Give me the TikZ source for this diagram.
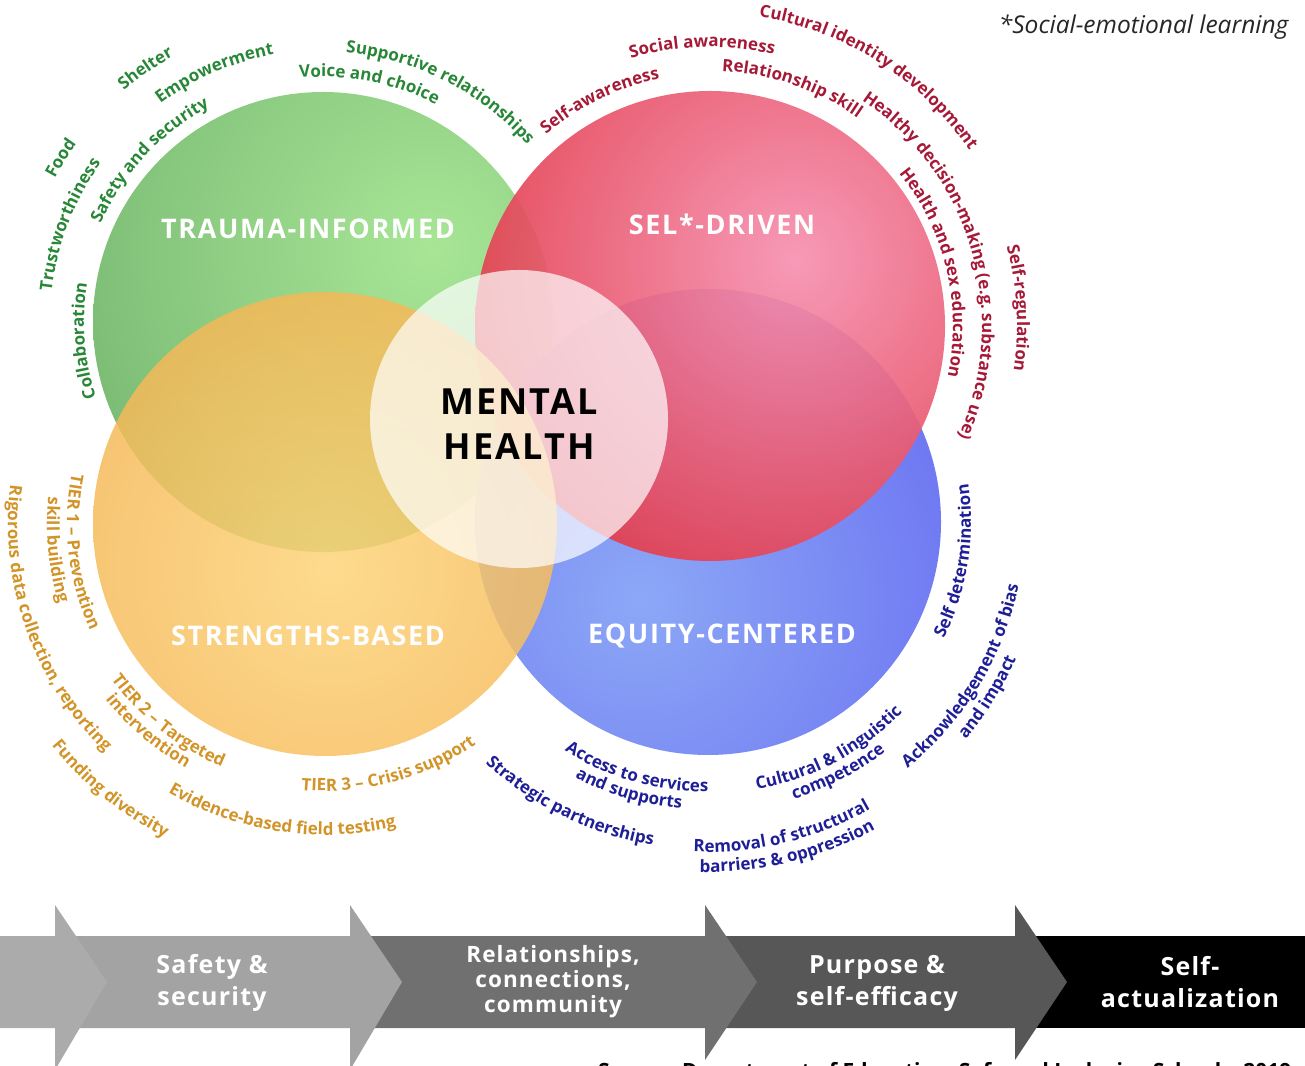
\documentclass[tikz,border=0pt]{standalone}
\usepackage{fontspec}
\setmainfont{Open Sans}
\newfontfamily\headfont{Open Sans}[LetterSpace=6]
\newfontfamily\stepfont{Open Sans}[LetterSpace=5]
\usetikzlibrary{calc,decorations.text}

\definecolor{grnin}{RGB}{168,230,150}
\definecolor{grnout}{RGB}{100,166,100}
\definecolor{redin}{RGB}{246,146,178}
\definecolor{redout}{RGB}{224,50,64}
\definecolor{orgin}{RGB}{253,212,122}
\definecolor{orgout}{RGB}{238,162,60}
\definecolor{bluin}{RGB}{140,168,246}
\definecolor{bluout}{RGB}{98,98,240}
\definecolor{grntxt}{RGB}{40,135,55}
\definecolor{redtxt}{RGB}{165,25,55}
\definecolor{orgtxt}{RGB}{210,148,40}
\definecolor{blutxt}{RGB}{30,30,150}
\definecolor{stepa}{RGB}{171,171,171}
\definecolor{stepb}{RGB}{163,163,163}
\definecolor{stepc}{RGB}{112,112,112}
\definecolor{stepd}{RGB}{87,87,87}

\newcommand\lblfont{\bfseries\fontsize{17}{20}\selectfont}
% curved labels: centre, baseline radius, mid angle, colour, text
\newcommand{\cwtext}[5]{%
  \path[decorate,decoration={text along path,text align=center,text color=#4,
      text={|\lblfont|#5}}]
    ($(#1)+(#3+80:#2)$) arc[start angle=#3+80,end angle=#3-80,radius=#2];}
\newcommand{\ccwtext}[5]{%
  \path[decorate,decoration={text along path,text align=center,text color=#4,
      text={|\lblfont|#5}}]
    ($(#1)+(#3-80:#2)$) arc[start angle=#3-80,end angle=#3+80,radius=#2];}

\begin{document}
\begin{tikzpicture}[x=1pt,y=1pt,
    heading/.style={text=white,font=\headfont\bfseries\fontsize{27}{30}\selectfont},
    steptext/.style={text=white,align=center,font=\stepfont\bfseries\fontsize{25}{32}\selectfont}]

  \useasboundingbox (0,0) rectangle (1305,1065);
  \clip (0,0) rectangle (1305,1065);

  \coordinate (G) at (323,743);
  \coordinate (R) at (710,739);
  \coordinate (O) at (325,541);
  \coordinate (B) at (708,543);
  \coordinate (C) at (519,646);

  % the four rings
  \begin{scope}
    \clip (G) circle (230);
    \shade[inner color=grnin,outer color=grnout] (430,815) circle (560);
  \end{scope}
  \begin{scope}
    \clip (B) circle (233);
    \shade[inner color=bluin,outer color=bluout] (640,465) circle (480);
  \end{scope}
  \begin{scope}
    \clip (R) circle (235);
    \shade[inner color=redin,outer color=redout,opacity=0.93] (795,805) circle (390);
  \end{scope}
  \begin{scope}
    \clip (O) circle (232);
    \shade[inner color=orgin,outer color=orgout,opacity=0.85] (330,495) circle (500);
  \end{scope}
  \fill[white,opacity=0.7] (C) circle (149);

  \node[heading] (trauma) at (308,836) {TRAUMA-INFORMED};
  \node[heading] (sel) at (722,841) {SEL*-DRIVEN};
  \node[heading] (strength) at (308,429) {STRENGTHS-BASED};
  \node[heading] (equity) at (722,429) {EQUITY-CENTERED};
  \node[font=\headfont\bfseries\fontsize{36}{45}\selectfont,align=center] (mh) at (519,641)
    {MENTAL\\HEALTH};

  % green ring
  \cwtext{G}{239}{184.5}{grntxt}{Collaboration}
  \cwtext{G}{273}{159}{grntxt}{Trustworthiness}
  \cwtext{G}{304}{148}{grntxt}{Food}
  \cwtext{G}{243}{137}{grntxt}{Safety and security}
  \cwtext{G}{272}{113.5}{grntxt}{Empowerment}
  \cwtext{G}{305}{125}{grntxt}{Shelter}
  \cwtext{G}{245}{79}{grntxt}{Voice and choice}
  \cwtext{G}{270}{63}{grntxt}{Supportive relationships}

  % red ring
  \cwtext{R}{252}{116}{redtxt}{Self-awareness}
  \cwtext{R}{279}{91.6}{redtxt}{Social awareness}
  \cwtext{R}{255}{71}{redtxt}{Relationship skill}
  \cwtext{R}{313}{57.5}{redtxt}{Cultural identity development}
  \cwtext{R}{272}{16}{redtxt}{Healthy decision-making (e.g. substance use)}
  \cwtext{R}{243}{13.5}{redtxt}{Health and sex education}
  \cwtext{R}{307}{3.3}{redtxt}{Self-regulation}

  % orange ring
  \ccwtext{O}{258}{186.6}{orgtxt}{TIER 1 – Prevention}
  \ccwtext{O}{278}{185.5}{orgtxt}{skill building}
  \ccwtext{O}{317}{199.5}{orgtxt}{Rigorous data collection, reporting}
  \ccwtext{O}{264}{231.5}{orgtxt}{TIER 2 – Targeted}
  \ccwtext{O}{281}{229.5}{orgtxt}{intervention}
  \ccwtext{O}{352}{231}{orgtxt}{Funding diversity}
  \ccwtext{O}{311}{261.5}{orgtxt}{Evidence-based field testing}
  \ccwtext{O}{267}{284.7}{orgtxt}{TIER 3 – Crisis support}

  % blue ring
  \ccwtext{B}{328}{243.8}{blutxt}{Strategic partnerships}
  \ccwtext{B}{270}{254}{blutxt}{Access to services}
  \ccwtext{B}{288}{253.6}{blutxt}{and supports}
  \ccwtext{B}{330}{283.5}{blutxt}{Removal of structural}
  \ccwtext{B}{350}{283.6}{blutxt}{barriers {\&} oppression}
  \ccwtext{B}{272}{298}{blutxt}{Cultural {\&} linguistic}
  \ccwtext{B}{290}{297.5}{blutxt}{competence}
  \ccwtext{B}{317}{328.8}{blutxt}{Acknowledgement of bias}
  \ccwtext{B}{337}{328}{blutxt}{and impact}
  \ccwtext{B}{263}{351}{blutxt}{Self determination}

  \node[font=\itshape\fontsize{24.5}{28}\selectfont,text=black!85,anchor=east] (note) at (1292,1038)
    {*Social-emotional learning};

  \node[font=\bfseries\fontsize{21}{24}\selectfont,anchor=base west,inner sep=0pt] (src) at (598,-13)
    {Source: Department of Education, Safe and Inclusive Schools, 2019};

  % step arrows, drawn right to left so each head lies on the next band
  \fill[black] (1015,37) rectangle (1305,129);
  \foreach \xs/\xb/\yb/\col in {705/1015/5/stepd, 350/705/5/stepc, 55/350/-5/stepb, 0/55/-5/stepa}
    \fill[\col] (\xs,37) -- (\xb,37) -- (\xb,\yb) -- (\xb+52,83) -- (\xb,160) -- (\xb,129)
      -- (\xs,129) -- cycle;

  \node[steptext] (safety) at (212,82) {Safety \&\\security};
  \node[steptext,font=\stepfont\bfseries\fontsize{22.5}{25}\selectfont] (relate) at (553,83)
    {Relationships,\\connections,\\community};
  \node[steptext] (purpose) at (877,82) {Purpose \&\\self-efficacy};
  \node[steptext] (selfact) at (1190,83) {Self-\\actualization};
\end{tikzpicture}
\end{document}
